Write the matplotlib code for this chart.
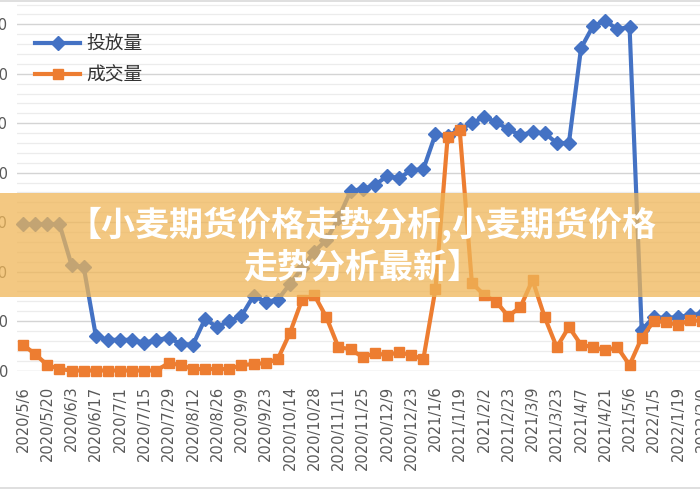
import matplotlib
matplotlib.use("Agg")
import matplotlib.pyplot as plt
from matplotlib.patches import Rectangle
from matplotlib.lines import Line2D
from matplotlib.ticker import MultipleLocator

plt.rcParams['font.family'] = ['DejaVu Sans', 'Noto Sans CJK SC']

series_names = ["投放量", "成交量"]
tick_labels = ["2020/5/6", "2020/5/20", "2020/6/3", "2020/6/17", "2020/7/1", "2020/7/15",
               "2020/7/29", "2020/8/12", "2020/8/26", "2020/9/9", "2020/9/23", "2020/10/14",
               "2020/10/28", "2020/11/11", "2020/11/25", "2020/12/9", "2020/12/23", "2021/1/6",
               "2021/1/19", "2021/2/2", "2021/2/23", "2021/3/9", "2021/3/23", "2021/4/7",
               "2021/4/21", "2021/5/6", "2022/1/5", "2022/1/19", "2022/2/9"]
toufang = [296, 296, 296, 296, 213, 209, 70, 62, 62, 62, 56, 62, 66, 54, 52,
           104, 88, 100, 110, 151, 139, 143, 175, 207, 240, 264, 308, 363,
           367, 375, 393, 389, 405, 407, 478, 474, 488, 500, 513, 502, 488, 476,
           482, 480, 460, 460, 652, 697, 707, 690, 695, 82, 108, 106, 108, 112, 115]
chengjiao = [52, 33, 11, 3, 0, 0, 0, 0, 0, 0, 0, 0, 15, 11, 3, 3, 3, 3, 11, 13, 15, 23,
             76, 143, 153, 108, 47, 43, 27, 35, 31, 37, 31, 23, 165, 472, 486, 177, 153,
             139, 110, 128, 183, 108, 47, 88, 52, 47, 41, 47, 11, 66, 100, 98, 92, 102, 100]
y_ticks = [0, 100, 200, 300, 400, 500, 600, 700]
title_lines = ["【小麦期货价格走势分析,小麦期货价格", "走势分析最新】"]

W, H = 700, 490
fig = plt.figure(figsize=(7, 4.9), dpi=100)
fig.patch.set_facecolor("white")

ax_left, ax_bottom_px, ax_top_px = 17, 370.5, 2.1
ax = fig.add_axes([ax_left / W, (H - ax_bottom_px) / H, 691.4 / W, (ax_bottom_px - ax_top_px) / H])
n = len(toufang)
x = list(range(n))

ax.plot(x, toufang, color="#4472C4", lw=3.0, marker="D", ms=7, mec="#4472C4",
        zorder=3, clip_on=False, label=series_names[0], solid_joinstyle="round")
ax.plot(x, chengjiao, color="#ED7D31", lw=3.0, marker="s", ms=7, mec="#ED7D31",
        zorder=4, clip_on=False, label=series_names[1], solid_joinstyle="round")

ax.set_xlim(-0.5, 56.5)
ax.set_ylim(0, 745)
ax.yaxis.set_major_locator(MultipleLocator(100))
ax.yaxis.set_minor_locator(MultipleLocator(20))
ax.grid(which="major", axis="y", color="#d4d4d4", lw=1.0, zorder=0)
ax.grid(which="minor", axis="y", color="#ececec", lw=0.9, zorder=0)
ax.set_axisbelow(True)
for s in ax.spines.values():
    s.set_visible(False)

ax.set_xticks(list(range(0, 2 * len(tick_labels), 2)))
ax.set_xticklabels(tick_labels, rotation=90, fontsize=10.5, color="#595959")
ax.set_yticks(y_ticks)
ax.set_yticklabels([str(v) for v in y_ticks], fontsize=10.5, color="#595959")
ax.tick_params(axis="both", which="both", length=0)
ax.tick_params(axis="x", pad=11)
ax.tick_params(axis="y", pad=6.5)

leg = ax.legend(loc="upper left", bbox_to_anchor=(35 / W, 1 - 35 / H),
                bbox_transform=fig.transFigure, frameon=False, fontsize=13.5,
                handlelength=2.4, handletextpad=0.35, labelspacing=0.6,
                borderpad=0, borderaxespad=0)
for t in leg.get_texts():
    t.set_color("#333333")

# banner overlay
fig.add_artist(Rectangle((0, (H - 297) / H), 1, 104 / H, transform=fig.transFigure,
                         facecolor="#EFB658", alpha=0.75, edgecolor="none", zorder=10))
for txt, ypx in zip(title_lines, [225, 267]):
    fig.text(362 / W, 1 - ypx / H, txt, ha="center", va="center", color="white",
             fontsize=24.5, fontweight="heavy", family=["Noto Sans CJK SC", "DejaVu Sans"],
             zorder=11)

# chart border lines
fig.add_artist(Line2D([0, 1], [1 - 1 / H, 1 - 1 / H], transform=fig.transFigure, color="#d9d9d9", lw=1.2))
fig.add_artist(Line2D([0, 1], [2 / H, 2 / H], transform=fig.transFigure, color="#d9d9d9", lw=1.2))

fig.savefig("out.png", dpi=100)
